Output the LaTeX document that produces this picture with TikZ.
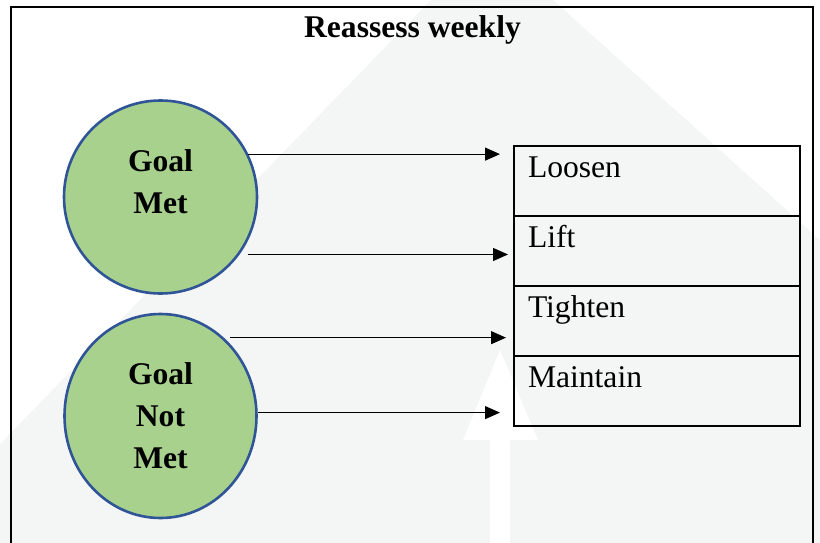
\documentclass[tikz,border=0pt]{standalone}
\usepackage{fontspec}
\setmainfont{Liberation Serif}
\usetikzlibrary{positioning}
\usetikzlibrary{shapes.geometric}
\usetikzlibrary{arrows.meta}

\definecolor{goalgreen}{HTML}{A9D18E}
\definecolor{goalblue}{HTML}{2F5597}
\definecolor{markgray}{HTML}{F4F5F5}

\begin{document}
\begin{tikzpicture}[x=1pt,y=-1pt,
        goaltext/.style={font=\fontsize{31.6}{42}\selectfont\bfseries,align=center},
        goal/.style={goaltext,draw=goalblue,line width=2.6pt,fill=goalgreen,inner sep=0pt},
        stepbox/.style={draw,line width=2pt,outer sep=0pt,inner xsep=14pt,inner ysep=0pt,
            text width=258pt,align=left,text height=31pt,text depth=39pt,
            font=\fontsize{31.6}{42}\selectfont},
        arr/.style={line width=1.2pt,-{Triangle[length=15pt,width=13pt]},shorten >=14pt}]
    \useasboundingbox (0,0) rectangle (820,543);

    % faint mark behind the diagram
    \fill[markgray] (431,0) -- (553,0) -- (820,240) -- (820,543) -- (0,543) -- (0,444) -- cycle;
    \fill[white] (500,350) -- (538,440) -- (510,440) -- (510,543) -- (490,543) -- (490,440) -- (463,440) -- cycle;

    \draw[line width=2.4pt] (11,7) rectangle (813,600);

    \node[anchor=base,goaltext] (title) at (412.5,38) {Reassess weekly};

    \node[goal,circle,minimum size=193pt,
        label={[goaltext,yshift=15pt]center:Goal\\Met}] (met) at (160.5,197) {};
    \node[goal,ellipse,minimum width=192pt,minimum height=204pt] (notmet) at (160.5,416) {Goal\\Not\\Met};

    \node[stepbox] (loosen) at (657,181) {Loosen};
    \node[stepbox,below=0pt of loosen] (lift) {Lift};
    \node[stepbox,below=0pt of lift] (tighten) {Tighten};
    \node[stepbox,below=0pt of tighten] (maintain) {Maintain};

    \draw[arr] (met.26.5) -- (met.26.5 -| loosen.west);
    \draw[arr] ([xshift=8pt]met.-36) -- ([xshift=8pt]met.-36 -| lift.west);
    \draw[arr] ([xshift=6pt]notmet.51.6) -- ([xshift=6pt]notmet.51.6 -| tighten.west);
    \draw[arr] (notmet.2) -- (notmet.2 -| maintain.west);
\end{tikzpicture}
\end{document}
